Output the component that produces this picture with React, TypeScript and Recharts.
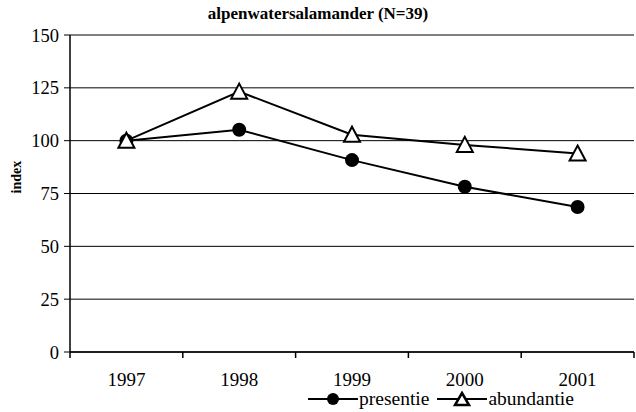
import { LineChart, Line, XAxis, YAxis, CartesianGrid } from "recharts";

const years = [1997, 1998, 1999, 2000, 2001];
const presentie = [100, 105.2, 90.8, 78.2, 68.6];
const abundantie = [100, 123.2, 102.8, 98, 93.9];
const yTicks = [0, 25, 50, 75, 100, 125, 150];

const data = years.map((jaar, i) => ({
  jaar,
  presentie: presentie[i],
  abundantie: abundantie[i],
}));

// tick marks sit between the years (Excel-style), labels on the years
const xTicks: number[] = [];
years.forEach((y) => xTicks.push(y - 0.5, y));
xTicks.push(years[years.length - 1] + 0.5);

const FONT = "Liberation Serif, Times New Roman, Times, serif";

function XTick({ x, y, payload }: any) {
  const v = payload?.value as number;
  if (Number.isInteger(v)) {
    return (
      <text x={x} y={y + 34} textAnchor="middle" fontSize={19} fontFamily={FONT} fill="#000">
        {v}
      </text>
    );
  }
  return <line x1={x} x2={x} y1={y} y2={y + 6} stroke="#000" strokeWidth={1.5} />;
}

function CircleDot({ cx, cy }: any) {
  if (cx == null || cy == null) return null;
  return <circle cx={cx} cy={cy} r={7} fill="#000" />;
}

function TriangleDot({ cx, cy }: any) {
  if (cx == null || cy == null) return null;
  const w = 8;
  return (
    <polygon
      points={`${cx},${cy - 8} ${cx + w},${cy + 7} ${cx - w},${cy + 7}`}
      fill="#fff"
      stroke="#000"
      strokeWidth={2}
    />
  );
}

export default function App() {
  return (
    <div style={{ position: "absolute", left: 0, top: 0, width: 636, height: 412, background: "#fff", fontFamily: FONT }}>
      <div
        style={{
          position: "absolute",
          top: 4,
          left: 0,
          width: 636,
          textAlign: "center",
          fontWeight: "bold",
          fontSize: 17,
          color: "#000",
        }}
      >
        alpenwatersalamander (N=39)
      </div>
      <LineChart width={636} height={412} data={data} margin={{ top: 35, right: 2, left: 0, bottom: 0 }}>
        <CartesianGrid vertical={false} stroke="#000" strokeWidth={1} />
        <XAxis
          dataKey="jaar"
          type="number"
          domain={[1996.5, 2001.5]}
          ticks={xTicks}
          interval={0}
          tickLine={false}
          tickSize={0}
          tickMargin={0}
          axisLine={{ stroke: "#000", strokeWidth: 1.5 }}
          tick={<XTick />}
          height={60}
        />
        <YAxis
          domain={[0, 150]}
          ticks={yTicks}
          interval={0}
          width={70}
          tickSize={6}
          tickMargin={5}
          tickLine={{ stroke: "#000", strokeWidth: 1 }}
          axisLine={{ stroke: "#000", strokeWidth: 1.5 }}
          tick={{ fill: "#000", fontSize: 18.5, fontFamily: FONT }}
          label={{
            value: "index",
            angle: -90,
            position: "insideLeft",
            offset: 16,
            fill: "#000",
            fontSize: 14,
            fontWeight: "bold",
            fontFamily: FONT,
          }}
        />
        <Line
          dataKey="presentie"
          stroke="#000"
          strokeWidth={2}
          dot={<CircleDot />}
          activeDot={false}
          isAnimationActive={false}
        />
        <Line
          dataKey="abundantie"
          stroke="#000"
          strokeWidth={2}
          dot={<TriangleDot />}
          activeDot={false}
          isAnimationActive={false}
        />
      </LineChart>
      <div
        style={{
          position: "absolute",
          top: 389,
          left: 308,
          display: "flex",
          alignItems: "center",
          fontSize: 19.5,
          color: "#000",
          lineHeight: "20px",
        }}
      >
        <svg width={50} height={20}>
          <line x1={0} x2={50} y1={10} y2={10} stroke="#000" strokeWidth={2} />
          <circle cx={25} cy={10} r={6} fill="#000" />
        </svg>
        <span style={{ marginLeft: 1, marginRight: 8 }}>presentie</span>
        <svg width={50} height={20}>
          <line x1={0} x2={50} y1={10} y2={10} stroke="#000" strokeWidth={2} />
          <polygon points="25,4 32,16 18,16" fill="#fff" stroke="#000" strokeWidth={2.5} />
        </svg>
        <span style={{ marginLeft: 1 }}>abundantie</span>
      </div>
    </div>
  );
}
